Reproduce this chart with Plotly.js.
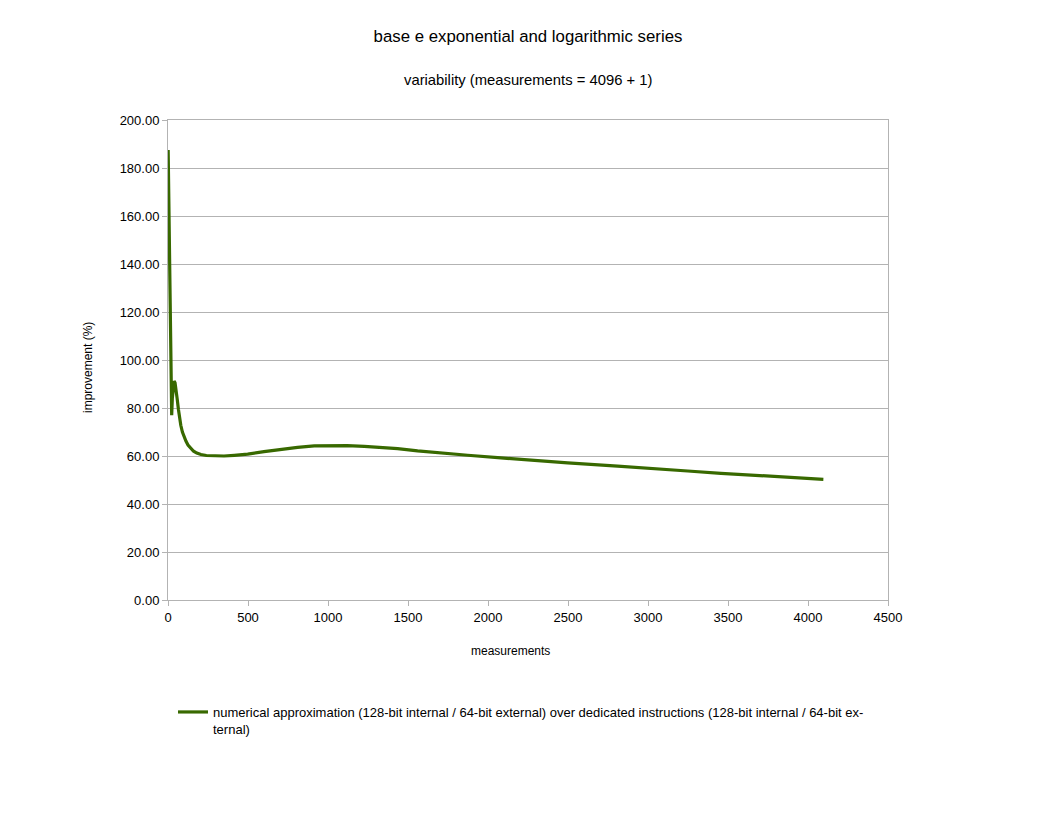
<!DOCTYPE html>
<html>
<head>
<meta charset="utf-8">
<script src="https://cdn.plot.ly/plotly-3.0.1.min.js"></script>
<style>
  body { margin: 0; background: #fff; }
  #chart { width: 1056px; height: 816px; }
</style>
</head>
<body>
<div id="chart"></div>
<script>
// values
var measurements = [1, 4, 8, 12, 16, 20, 23, 27, 32, 38, 44, 50, 57, 65, 72, 80, 90, 100, 112, 125, 140, 160,
                    180, 206, 240, 300, 350, 414, 498, 600, 706, 810, 914, 1019, 1120, 1227, 1330, 1435,
                    1560, 1664, 1873, 2081, 2290, 2498, 2810, 3040, 3248, 3456, 3665, 3873, 4096];
var improvement = [187.5, 170, 146, 122, 99, 81, 77, 84, 89.5, 91.2, 90.5, 88, 84, 79.5, 76, 72.8, 70, 68, 66.2, 64.6, 63.3, 62.0,
                   61.2, 60.6, 60.2, 60.0, 60.0, 60.3, 60.8, 61.8, 62.8, 63.6, 64.2, 64.4, 64.3, 64.0, 63.6, 63.1,
                   62.1, 61.4, 60.3, 59.2, 58.1, 57.1, 55.8, 54.6, 53.75, 52.8, 51.95, 51.1, 50.3];

var xTicks = [0, 500, 1000, 1500, 2000, 2500, 3000, 3500, 4000, 4500];
var yTicks = [0, 20, 40, 60, 80, 100, 120, 140, 160, 180, 200];

var seriesName = 'numerical approximation (128-bit internal / 64-bit external) over dedicated instructions (128-bit internal / 64-bit ex-<br>ternal)';

var font = 'Liberation Sans, Arial, sans-serif';
var gridColor = '#b3b3b3';

var trace = {
  x: measurements,
  y: improvement,
  type: 'scatter',
  mode: 'lines',
  name: seriesName,
  line: { color: '#386900', width: 3.2 }
};

var layout = {
  width: 1056,
  height: 816,
  paper_bgcolor: '#ffffff',
  plot_bgcolor: '#ffffff',
  font: { family: font, size: 13, color: '#000000' },
  margin: { l: 168, r: 168, t: 120, b: 216 },
  title: {
    text: 'base e exponential and logarithmic series',
    font: { family: font, size: 16.8, color: '#000000' },
    x: 0.5,
    xanchor: 'center',
    y: 1 - 36 / 816,
    yanchor: 'middle'
  },
  annotations: [{
    text: 'variability (measurements = 4096 + 1)',
    xref: 'paper', yref: 'paper',
    x: 0.5, y: 1 + 40 / 480,
    xanchor: 'center', yanchor: 'middle',
    showarrow: false,
    font: { family: font, size: 14.8, color: '#000000' }
  }, {
    // x axis title
    text: 'measurements',
    xref: 'paper', yref: 'paper',
    x: (510 - 168) / 720, y: (600 - 651) / 480,
    xanchor: 'center', yanchor: 'middle',
    showarrow: false,
    font: { family: font, size: 12, color: '#000000' }
  }, {
    // y axis title
    text: 'improvement (%)',
    xref: 'paper', yref: 'paper',
    x: (88 - 168) / 720, y: (600 - 368) / 480,
    xanchor: 'center', yanchor: 'middle',
    textangle: -90,
    showarrow: false,
    font: { family: font, size: 12, color: '#000000' }
  }],
  xaxis: {
    range: [0, 4500],
    tickvals: xTicks,
    ticktext: xTicks.map(String),
    ticks: 'outside',
    ticklen: 5,
    tickcolor: gridColor,
    showline: true,
    linecolor: gridColor,
    linewidth: 1,
    mirror: true,
    showgrid: false,
    zeroline: false,
    tickfont: { family: font, size: 13, color: '#000000' }
  },
  yaxis: {
    range: [0, 200],
    tickvals: yTicks,
    ticktext: yTicks.map(function (v) { return v.toFixed(2); }),
    ticks: 'outside',
    ticklen: 5,
    tickcolor: gridColor,
    showline: true,
    linecolor: gridColor,
    linewidth: 1,
    mirror: true,
    showgrid: true,
    gridcolor: gridColor,
    gridwidth: 1,
    zeroline: false,
    tickfont: { family: font, size: 13, color: '#000000' }
  },
  showlegend: true,
  legend: {
    orientation: 'h',
    x: 5 / 720,
    xanchor: 'left',
    y: -97 / 480,
    yanchor: 'top',
    valign: 'top',
    font: { family: font, size: 13, color: '#000000' },
    itemwidth: 30,
    bgcolor: 'rgba(0,0,0,0)'
  }
};

Plotly.newPlot('chart', [trace], layout, { staticPlot: true, displayModeBar: false });
</script>
</body>
</html>
